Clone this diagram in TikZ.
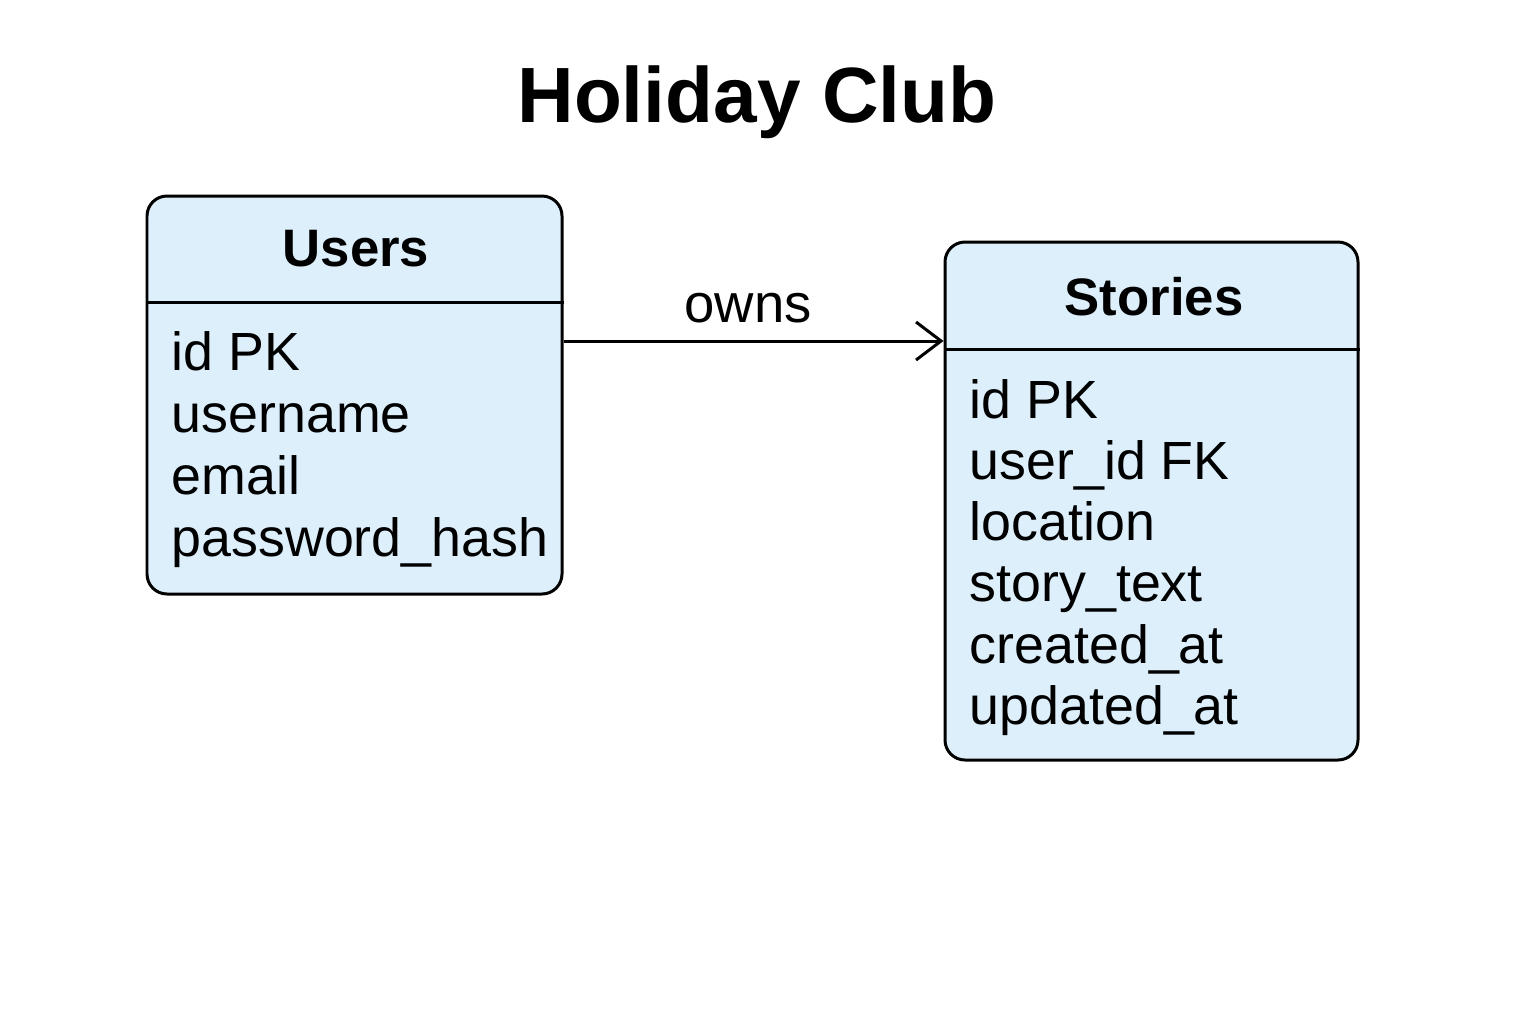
\documentclass[tikz,border=0pt]{standalone}
\usepackage{fontspec}
\setmainfont{Liberation Sans}
\usetikzlibrary{positioning,calc,arrows.meta}

\definecolor{tablefill}{HTML}{DCEFFA}

\tikzset{
  entity/.style={draw=black,line width=0.85pt,fill=tablefill,rounded corners=0.2cm,inner sep=0pt},
  header/.style={font=\fontsize{15}{18}\selectfont\bfseries,inner sep=0pt},
  field/.style={font=\fontsize{15.3}{18}\selectfont,anchor=base west,inner sep=0pt},
  relation/.style={line width=0.85pt,-{Straight Barb[length=0.25cm,width=0.38cm,line width=0.85pt]}}
}

\begin{document}
\begin{tikzpicture}
\useasboundingbox (0,0) rectangle (15.36,-10.24);
\fill[white] (0,0) rectangle (15.36,-10.24);

% title
\node (title) [font=\fontsize{22.3}{27}\selectfont\bfseries,anchor=base,inner sep=0pt] at (7.57,-1.22) {Holiday Club};

% entities
\node (users) [entity,minimum width=4.15cm,minimum height=3.98cm] at (3.545,-3.95) {};
\node (stories) [entity,minimum width=4.13cm,minimum height=5.18cm] at (11.515,-5.01) {};

\draw[line width=0.85pt] (users.west |- 0,-3.02) -- (users.east |- 0,-3.02);
\draw[line width=0.85pt] (stories.west |- 0,-3.49) -- (stories.east |- 0,-3.49);

\node (usershead) [header,anchor=base] at (3.56,-2.66) {Users};
\node (storieshead) [header,anchor=base] at (11.54,-3.15) {Stories};

% fields
\foreach \f [count=\i] in {id PK,username,email,password\_hash}
  \node (u\i) [field] at (1.71,{-3.70-0.62*(\i-1)}) {\f};
\foreach \f [count=\i] in {id PK,user\_id FK,location,story\_text,created\_at,updated\_at}
  \node (s\i) [field] at (9.69,{-4.18-0.613*(\i-1)}) {\f};

% relation
\draw[relation] ([yshift=5.4mm]users.east) coordinate (own) -- (own -| stories.west);
\node (owns) [font=\fontsize{15.5}{18}\selectfont,anchor=base,inner sep=0pt] at (7.48,-3.22) {owns};

\end{tikzpicture}
\end{document}
